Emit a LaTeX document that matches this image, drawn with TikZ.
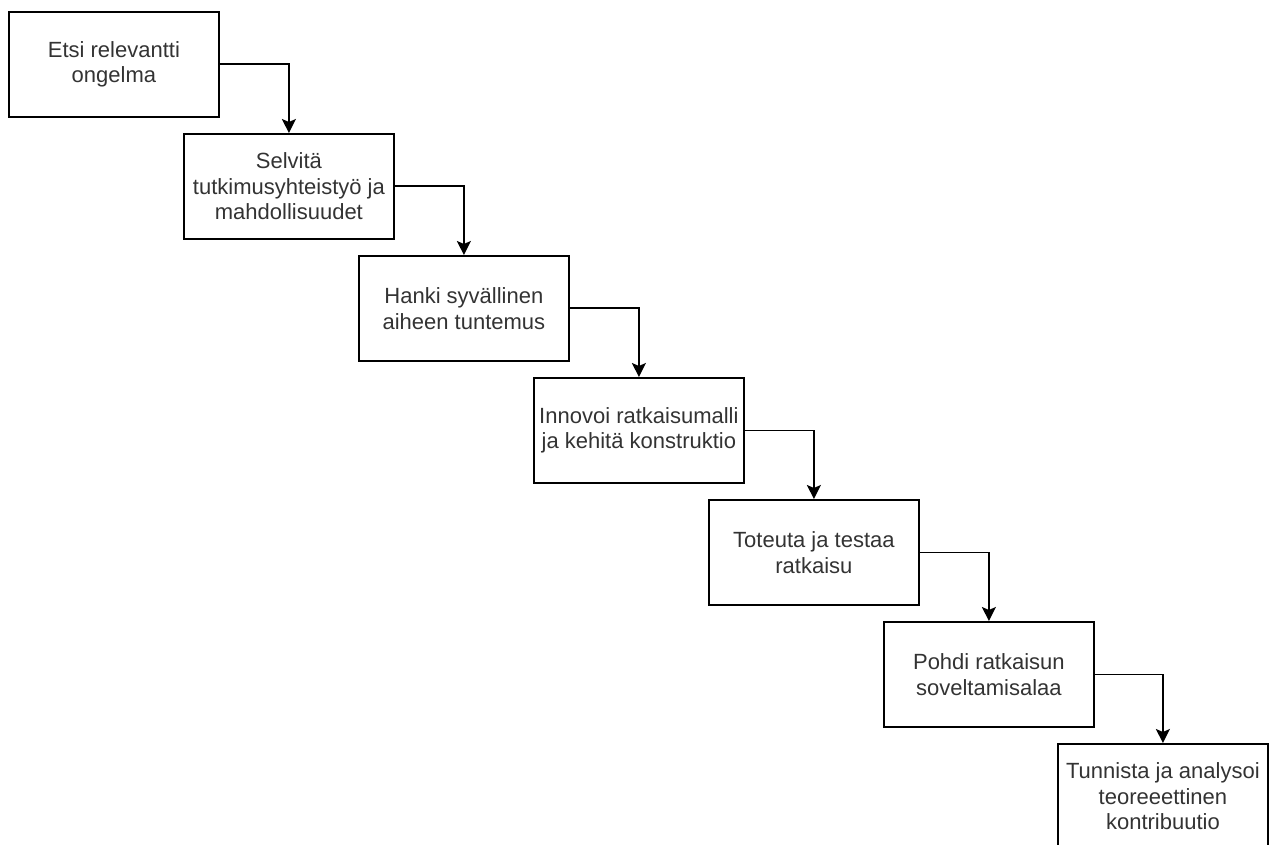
\documentclass[tikz,border=0pt]{standalone}
\usepackage{fontspec}
\setmainfont{Liberation Sans}
\usetikzlibrary{arrows.meta}
\begin{document}
\begin{tikzpicture}[x=1pt,y=-1pt,
  stepbox/.style={draw=black, line width=1.8pt, rectangle, minimum width=210pt, minimum height=105pt,
    inner sep=0pt, anchor=north west, align=center, text=black!80,
    font=\fontsize{22}{25.5}\selectfont},
  conn/.style={draw=black, line width=1.8pt, -{Stealth[length=14pt,width=14pt,inset=3pt]}}]
\useasboundingbox (0,0) rectangle (1278,845);
\node[stepbox] (b1) at (8,11) {Etsi relevantti\\ongelma};
\node[stepbox] (b2) at (183,133) {Selvitä\\tutkimusyhteistyö ja\\mahdollisuudet};
\node[stepbox] (b3) at (358,255) {Hanki syvällinen\\aiheen tuntemus};
\node[stepbox] (b4) at (533,377) {Innovoi ratkaisumalli\\ja kehitä konstruktio};
\node[stepbox] (b5) at (708,499) {Toteuta ja testaa\\ratkaisu};
\node[stepbox] (b6) at (883,621) {Pohdi ratkaisun\\soveltamisalaa};
\node[stepbox] (b7) at (1057,743) {Tunnista ja analysoi\\teoreeettinen\\kontribuutio};
\foreach \a/\b in {b1/b2,b2/b3,b3/b4,b4/b5,b5/b6,b6/b7}
  \draw[conn] (\a.east) -| (\b.north);
\end{tikzpicture}
\end{document}
